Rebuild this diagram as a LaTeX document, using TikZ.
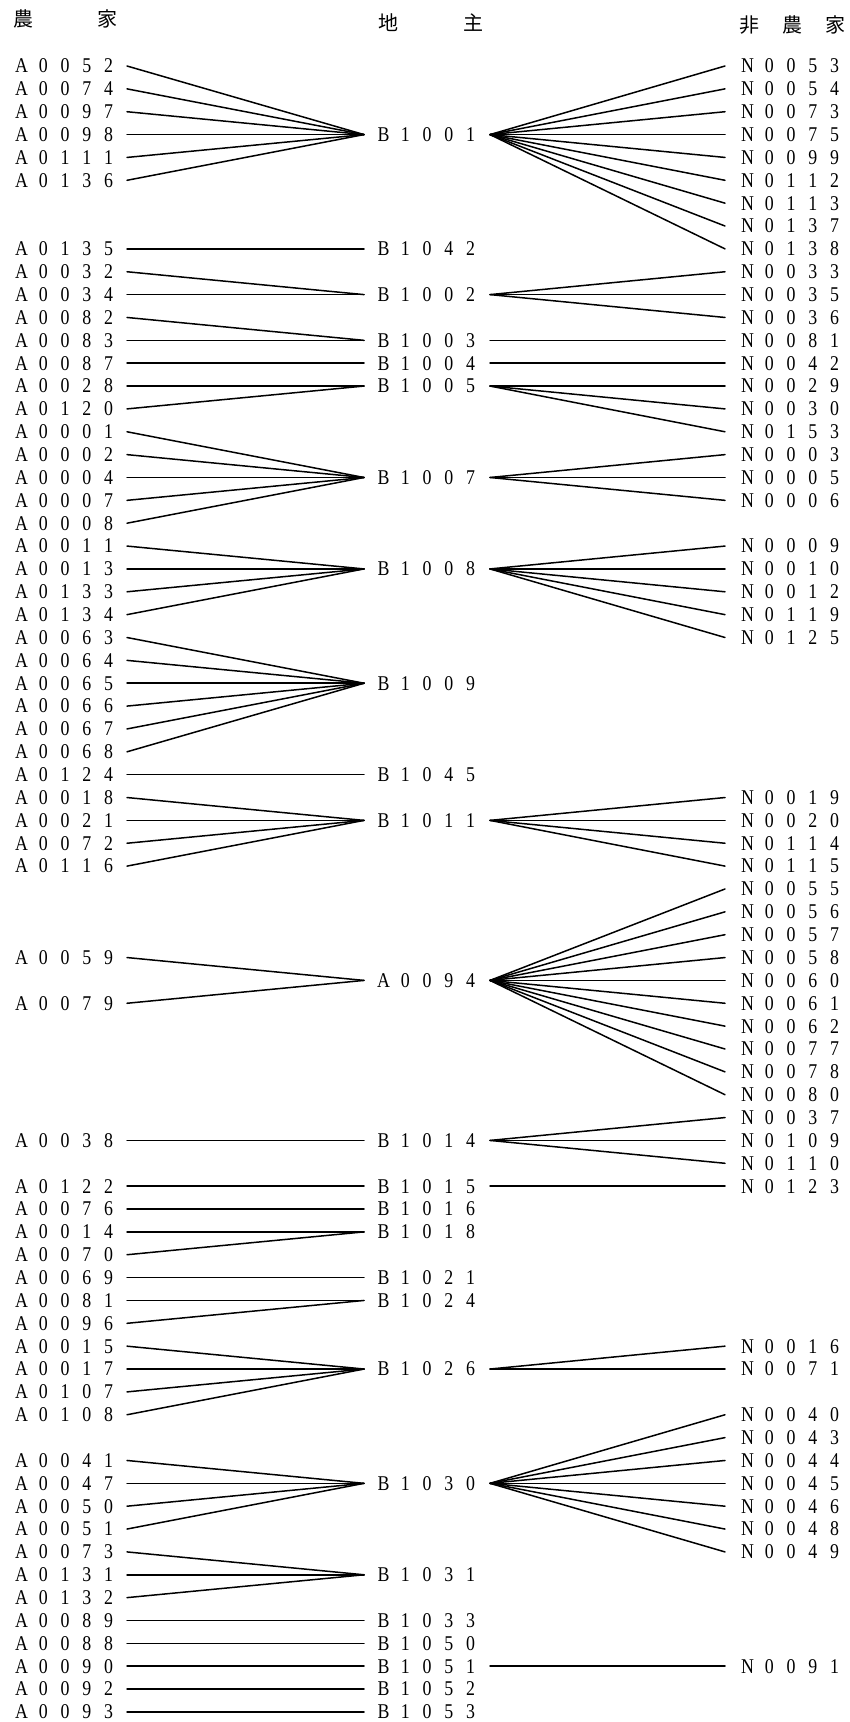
\documentclass[tikz,border=0pt]{standalone}
\usepackage{fontspec}
\usepackage{graphicx}
\newfontfamily\idfont{Liberation Serif}
\newfontfamily\cjkfont{Noto Sans CJK JP}

% one spaced-out code: five characters on a fixed pitch
\newcommand\idl[5]{%
  \makebox[21.75pt]{\scalebox{0.85}[1]{#1}}%
  \makebox[21.75pt]{\scalebox{0.85}[1]{#2}}%
  \makebox[21.75pt]{\scalebox{0.85}[1]{#3}}%
  \makebox[21.75pt]{\scalebox{0.85}[1]{#4}}%
  \makebox[21.75pt]{\scalebox{0.85}[1]{#5}}}

\tikzset{
  lab/.style={inner sep=0pt, outer sep=0pt,
    font=\idfont\fontsize{21pt}{21pt}\selectfont},
  farmbox/.style={lab, minimum width=124pt},
  lordbox/.style={lab, minimum width=126pt},
  nonfbox/.style={lab, minimum width=132pt},
  link/.style={line width=1.5pt, line cap=round},
  head/.style={inner sep=0pt, font=\cjkfont\fontsize{20pt}{20pt}\selectfont}
}

% row r sits at y = 66 + 22.86 r (pixels from the top)
\newcommand\farmer[2]{\node[farmbox] (l-#1) at (65,{66+22.86*#2}) {\idl#1};}
\newcommand\lord[2]{\node[lordbox] (m-#1) at (427,{66+22.86*#2}) {\idl#1};}
\newcommand\nonfarm[2]{\node[nonfbox] (r-#1) at (791,{66+22.86*#2}) {\idl#1};}
\newcommand\lease[2]{\foreach \q in {#1} \draw[link] (l-\q.east) -- (m-#2.west);}
\newcommand\sublet[2]{\foreach \q in {#2} \draw[link] (m-#1.east) -- (r-\q.west);}

\begin{document}
\begin{tikzpicture}[x=1pt, y=-1pt]
\fill[white] (0,0) rectangle (850,1722);
\useasboundingbox (0,0) rectangle (850,1722);

% column headings
\node[head] (h-l1) at (23,19) {農};
\node[head] (h-l2) at (107,19) {家};
\node[head] (h-m1) at (388,23) {地};
\node[head] (h-m2) at (473,23) {主};
\node[head] (h-r1) at (749,25) {非};
\node[head] (h-r2) at (792,25) {農};
\node[head] (h-r3) at (835,25) {家};

% farm households
\farmer{A0052}{0}\farmer{A0074}{1}\farmer{A0097}{2}\farmer{A0098}{3}
\farmer{A0111}{4}\farmer{A0136}{5}
\farmer{A0135}{8}\farmer{A0032}{9}\farmer{A0034}{10}\farmer{A0082}{11}
\farmer{A0083}{12}\farmer{A0087}{13}\farmer{A0028}{14}\farmer{A0120}{15}
\farmer{A0001}{16}\farmer{A0002}{17}\farmer{A0004}{18}\farmer{A0007}{19}
\farmer{A0008}{20}\farmer{A0011}{21}\farmer{A0013}{22}\farmer{A0133}{23}
\farmer{A0134}{24}\farmer{A0063}{25}\farmer{A0064}{26}\farmer{A0065}{27}
\farmer{A0066}{28}\farmer{A0067}{29}\farmer{A0068}{30}\farmer{A0124}{31}
\farmer{A0018}{32}\farmer{A0021}{33}\farmer{A0072}{34}\farmer{A0116}{35}
\farmer{A0059}{39}\farmer{A0079}{41}
\farmer{A0038}{47}
\farmer{A0122}{49}\farmer{A0076}{50}\farmer{A0014}{51}\farmer{A0070}{52}
\farmer{A0069}{53}\farmer{A0081}{54}\farmer{A0096}{55}\farmer{A0015}{56}
\farmer{A0017}{57}\farmer{A0107}{58}\farmer{A0108}{59}
\farmer{A0041}{61}\farmer{A0047}{62}\farmer{A0050}{63}\farmer{A0051}{64}
\farmer{A0073}{65}\farmer{A0131}{66}\farmer{A0132}{67}\farmer{A0089}{68}
\farmer{A0088}{69}\farmer{A0090}{70}\farmer{A0092}{71}\farmer{A0093}{72}

% landlords
\lord{B1001}{3}\lord{B1042}{8}\lord{B1002}{10}\lord{B1003}{12}
\lord{B1004}{13}\lord{B1005}{14}\lord{B1007}{18}\lord{B1008}{22}
\lord{B1009}{27}\lord{B1045}{31}\lord{B1011}{33}\lord{A0094}{40}
\lord{B1014}{47}\lord{B1015}{49}\lord{B1016}{50}\lord{B1018}{51}
\lord{B1021}{53}\lord{B1024}{54}\lord{B1026}{57}\lord{B1030}{62}
\lord{B1031}{66}\lord{B1033}{68}\lord{B1050}{69}\lord{B1051}{70}
\lord{B1052}{71}\lord{B1053}{72}

% non-farm households
\nonfarm{N0053}{0}\nonfarm{N0054}{1}\nonfarm{N0073}{2}\nonfarm{N0075}{3}
\nonfarm{N0099}{4}\nonfarm{N0112}{5}\nonfarm{N0113}{6}\nonfarm{N0137}{7}
\nonfarm{N0138}{8}\nonfarm{N0033}{9}\nonfarm{N0035}{10}\nonfarm{N0036}{11}
\nonfarm{N0081}{12}\nonfarm{N0042}{13}\nonfarm{N0029}{14}\nonfarm{N0030}{15}
\nonfarm{N0153}{16}\nonfarm{N0003}{17}\nonfarm{N0005}{18}\nonfarm{N0006}{19}
\nonfarm{N0009}{21}\nonfarm{N0010}{22}\nonfarm{N0012}{23}\nonfarm{N0119}{24}
\nonfarm{N0125}{25}
\nonfarm{N0019}{32}\nonfarm{N0020}{33}\nonfarm{N0114}{34}\nonfarm{N0115}{35}
\nonfarm{N0055}{36}\nonfarm{N0056}{37}\nonfarm{N0057}{38}\nonfarm{N0058}{39}
\nonfarm{N0060}{40}\nonfarm{N0061}{41}\nonfarm{N0062}{42}\nonfarm{N0077}{43}
\nonfarm{N0078}{44}\nonfarm{N0080}{45}\nonfarm{N0037}{46}\nonfarm{N0109}{47}
\nonfarm{N0110}{48}\nonfarm{N0123}{49}
\nonfarm{N0016}{56}\nonfarm{N0071}{57}
\nonfarm{N0040}{59}\nonfarm{N0043}{60}\nonfarm{N0044}{61}\nonfarm{N0045}{62}
\nonfarm{N0046}{63}\nonfarm{N0048}{64}\nonfarm{N0049}{65}
\nonfarm{N0091}{70}

% farm households -> landlords
\lease{A0052,A0074,A0097,A0098,A0111,A0136}{B1001}
\lease{A0135}{B1042}
\lease{A0032,A0034}{B1002}
\lease{A0082,A0083}{B1003}
\lease{A0087}{B1004}
\lease{A0028,A0120}{B1005}
\lease{A0001,A0002,A0004,A0007,A0008}{B1007}
\lease{A0011,A0013,A0133,A0134}{B1008}
\lease{A0063,A0064,A0065,A0066,A0067,A0068}{B1009}
\lease{A0124}{B1045}
\lease{A0018,A0021,A0072,A0116}{B1011}
\lease{A0059,A0079}{A0094}
\lease{A0038}{B1014}
\lease{A0122}{B1015}
\lease{A0076}{B1016}
\lease{A0014,A0070}{B1018}
\lease{A0069}{B1021}
\lease{A0081,A0096}{B1024}
\lease{A0015,A0017,A0107,A0108}{B1026}
\lease{A0041,A0047,A0050,A0051}{B1030}
\lease{A0073,A0131,A0132}{B1031}
\lease{A0089}{B1033}
\lease{A0088}{B1050}
\lease{A0090}{B1051}
\lease{A0092}{B1052}
\lease{A0093}{B1053}

% landlords -> non-farm households
\sublet{B1001}{N0053,N0054,N0073,N0075,N0099,N0112,N0113,N0137,N0138}
\sublet{B1002}{N0033,N0035,N0036}
\sublet{B1003}{N0081}
\sublet{B1004}{N0042}
\sublet{B1005}{N0029,N0030,N0153}
\sublet{B1007}{N0003,N0005,N0006}
\sublet{B1008}{N0009,N0010,N0012,N0119,N0125}
\sublet{B1011}{N0019,N0020,N0114,N0115}
\sublet{A0094}{N0055,N0056,N0057,N0058,N0060,N0061,N0062,N0077,N0078,N0080}
\sublet{B1014}{N0037,N0109,N0110}
\sublet{B1015}{N0123}
\sublet{B1026}{N0016,N0071}
\sublet{B1030}{N0040,N0043,N0044,N0045,N0046,N0048,N0049}
\sublet{B1051}{N0091}
\end{tikzpicture}
\end{document}
